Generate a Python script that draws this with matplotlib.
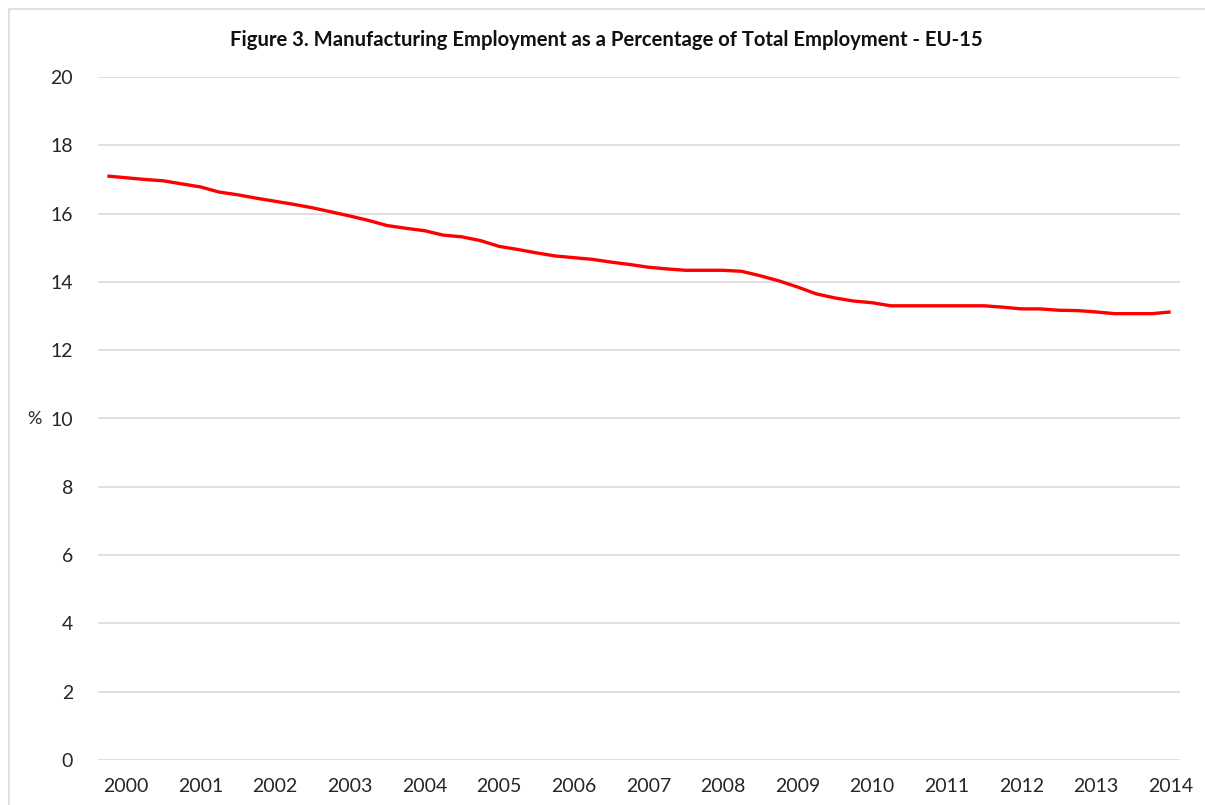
import matplotlib.pyplot as plt
from matplotlib.patches import Rectangle

# quarterly share of manufacturing in total employment, EU-15 (%)
share = [17.10, 17.05, 17.00, 16.96, 16.87, 16.78, 16.63, 16.55, 16.45, 16.36,
         16.27, 16.17, 16.05, 15.93, 15.80, 15.65, 15.57, 15.50, 15.37, 15.32,
         15.21, 15.04, 14.95, 14.85, 14.76, 14.71, 14.66, 14.58, 14.51, 14.43,
         14.38, 14.34, 14.34, 14.34, 14.31, 14.18, 14.03, 13.85, 13.65, 13.53,
         13.44, 13.39, 13.30, 13.30, 13.30, 13.30, 13.30, 13.30, 13.26, 13.21,
         13.21, 13.17, 13.16, 13.12, 13.07, 13.07, 13.07, 13.12]
years = list(range(2000, 2015))
y_ticks = [0, 2, 4, 6, 8, 10, 12, 14, 16, 18, 20]

plt.rcParams['font.family'] = ['Lato', 'DejaVu Sans']
text_col = '#262626'

W, H = 1205, 805
fig = plt.figure(figsize=(W / 100, H / 100), dpi=100)
ax = fig.add_axes([98 / W, 1 - 760 / H, (1180 - 98) / W, (760 - 77) / H])

xs = list(range(len(share)))
ax.plot(xs, share, color='#ff0000', linewidth=2.4, solid_capstyle='butt')

ax.set_xlim(-0.5, len(share) - 0.5)
ax.set_ylim(0, 20)
ax.set_yticks(y_ticks)
ax.set_xticks([1 + 4 * i for i in range(len(years))])
ax.set_xticklabels([str(y) for y in years])
ax.tick_params(axis='both', length=0, labelsize=14, colors=text_col)
ax.tick_params(axis='y', pad=18)
ax.tick_params(axis='x', pad=13)
ax.yaxis.grid(True, color='#d9d9d9', linewidth=1.2)
ax.set_axisbelow(True)
for s in ax.spines.values():
    s.set_visible(False)

ax.set_ylabel('%', rotation=0, va='center', ha='right', fontsize=13,
              color=text_col, labelpad=6)

fig.text(606 / W, 1 - 40 / H,
         'Figure 3. Manufacturing Employment as a Percentage of Total Employment - EU-15',
         ha='center', va='center', fontsize=14.6, fontweight='bold', color='#111111')

# chart frame
fig.patches.append(Rectangle((9 / W, -0.05), 1.1, 1 - 9 / H + 0.05,
                             transform=fig.transFigure, fill=False,
                             edgecolor='#d9d9d9', linewidth=1.2))

fig.savefig('out.png', dpi=100)
